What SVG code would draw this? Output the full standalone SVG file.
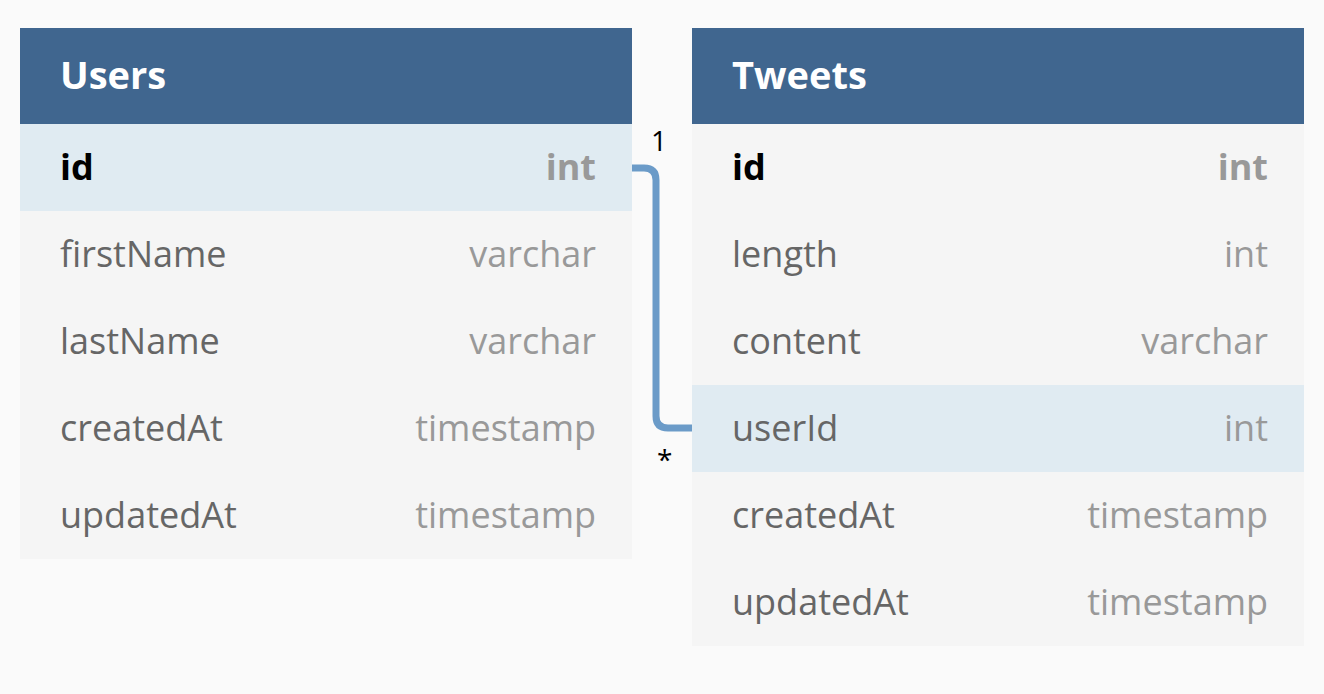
<svg xmlns="http://www.w3.org/2000/svg" width="1324" height="694" viewBox="0 0 1324 694">
<style>
.bg{fill:#fafafa}
.hdr{fill:#40668f}
.row{fill:#f5f5f5}
.hl{fill:#e0ebf2}
.title{font-family:"Open Sans","Noto Sans",sans-serif;font-weight:700;font-size:38px;fill:#ffffff}
.fname{font-family:"Open Sans","Noto Sans",sans-serif;font-size:36px;fill:#666666}
.pk{font-family:"Open Sans","Noto Sans",sans-serif;font-size:36px;font-weight:700;fill:#000000}
.type{font-family:"Open Sans","Noto Sans",sans-serif;font-size:36px;fill:#999999;text-anchor:end}
.typeb{font-family:"Open Sans","Noto Sans",sans-serif;font-size:36px;font-weight:700;fill:#999999;text-anchor:end}
.lbl{font-family:"Open Sans","Noto Sans",sans-serif;font-size:28px;fill:#000000}
.conn{fill:none;stroke:#6b9bc8;stroke-width:7}
</style>
<rect class="bg" x="0" y="0" width="1324" height="694"/>
<g id="users">
<rect class="hdr" x="20" y="28" width="612" height="96"/>
<text class="title" x="60" y="89">Users</text>
<rect class="hl" x="20" y="124" width="612" height="87"/>
<rect class="row" x="20" y="211" width="612" height="348"/>
<text class="pk" x="60" y="180">id</text><text class="typeb" x="596" y="180">int</text>
<text class="fname" x="60" y="267">firstName</text><text class="type" x="596" y="267">varchar</text>
<text class="fname" x="60" y="354">lastName</text><text class="type" x="596" y="354">varchar</text>
<text class="fname" x="60" y="441">createdAt</text><text class="type" x="596" y="441">timestamp</text>
<text class="fname" x="60" y="528">updatedAt</text><text class="type" x="596" y="528">timestamp</text>
</g>
<g id="tweets">
<rect class="hdr" x="692" y="28" width="612" height="96"/>
<text class="title" x="732" y="89">Tweets</text>
<rect class="row" x="692" y="124" width="612" height="522"/>
<rect class="hl" x="692" y="385" width="612" height="87"/>
<text class="pk" x="732" y="180">id</text><text class="typeb" x="1268" y="180">int</text>
<text class="fname" x="732" y="267">length</text><text class="type" x="1268" y="267">int</text>
<text class="fname" x="732" y="354">content</text><text class="type" x="1268" y="354">varchar</text>
<text class="fname" x="732" y="441">userId</text><text class="type" x="1268" y="441">int</text>
<text class="fname" x="732" y="528">createdAt</text><text class="type" x="1268" y="528">timestamp</text>
<text class="fname" x="732" y="615">updatedAt</text><text class="type" x="1268" y="615">timestamp</text>
</g>
<g id="connectors">
<path class="conn" d="M632 168 H644 Q656 168 656 180 V416 Q656 428 668 428 H692"/>
<text class="lbl" x="651" y="151">1</text>
<text class="lbl" x="657" y="470">*</text>
</g>
</svg>
